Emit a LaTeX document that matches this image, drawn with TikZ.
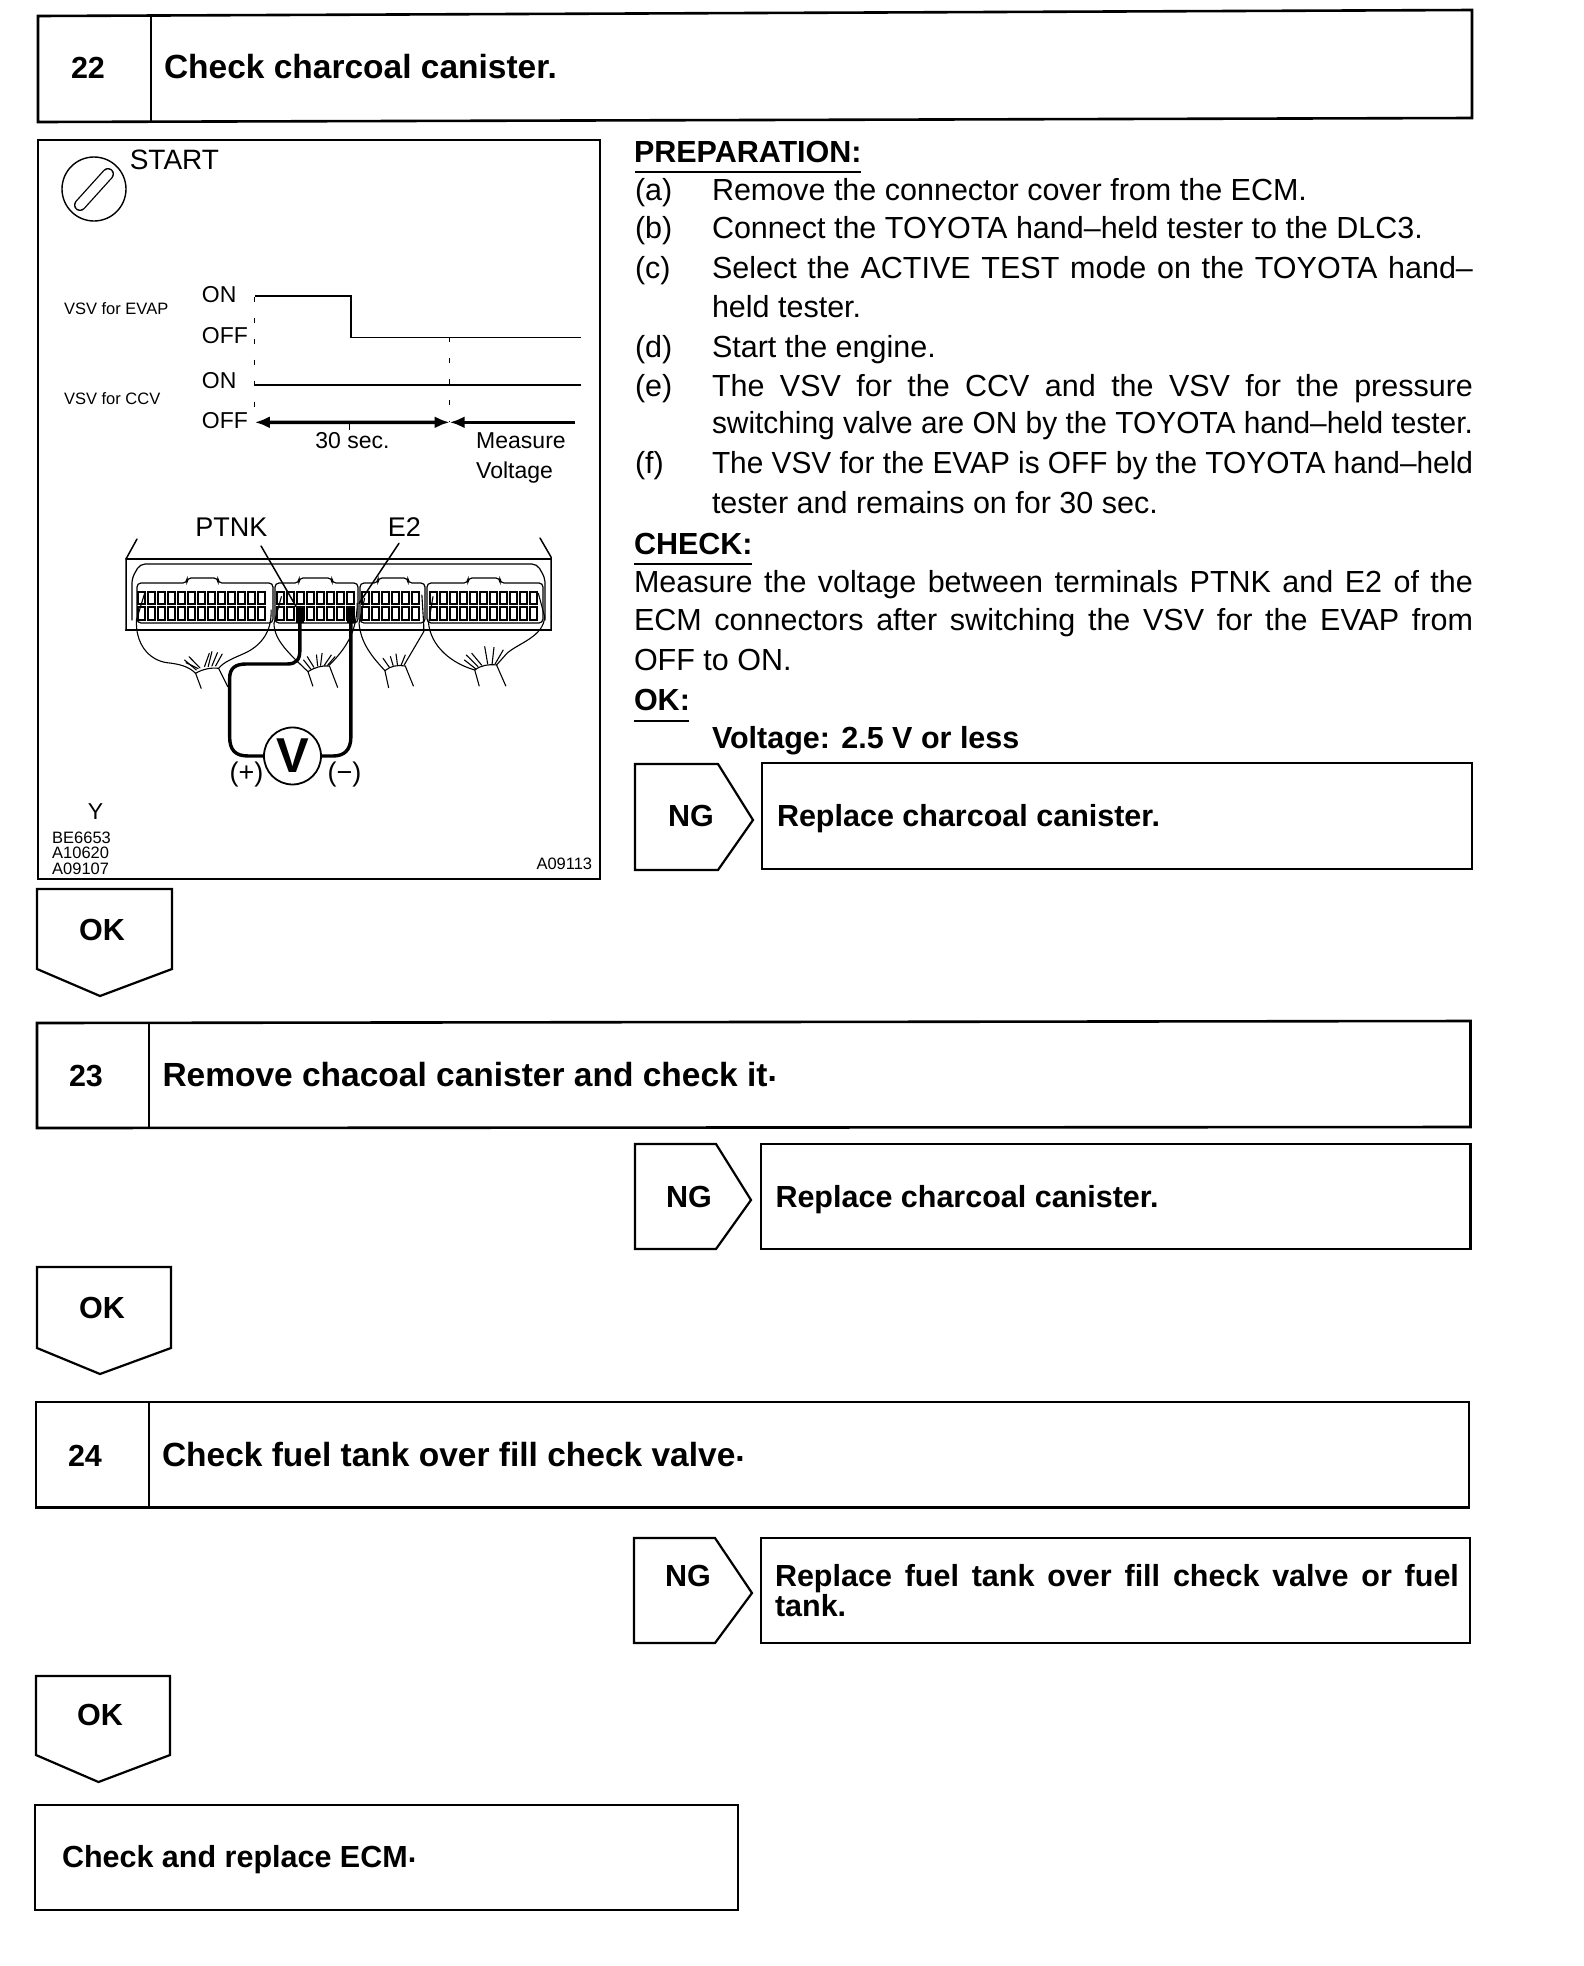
\documentclass[tikz,border=0pt]{standalone}
\usepackage{fontspec}
\setmainfont{Liberation Sans}
\usetikzlibrary{arrows.meta}
\newcommand{\fsz}[1]{\fontsize{#1}{#1}\selectfont}
\newcommand{\jl}[2]{\makebox[#1pt][s]{#2}}
\newcommand{\fitw}[2]{\resizebox{#1pt}{\height}{#2}}
\newcommand{\rdot}{\raisebox{5pt}{.}}
\newcommand{\ecmconn}[6]{%
  \draw[thinl,rounded corners=4pt] (#1,623) -- (#1,583) -- (#3,583) -- (#3,578) -- (#4,578) -- (#4,583) -- (#2,583) -- (#2,623) -- cycle;
  \foreach \i in {1,...,#6}{
    \draw[pin] ({#5+(\i-1)*10},592) rectangle +(7,12);
    \draw[pin] ({#5+(\i-1)*10},607) rectangle +(7,13);
  }}
\tikzset{
  txt/.style={anchor=base west,inner sep=0pt,outer sep=0pt,text=black},
  ctr/.style={anchor=base,inner sep=0pt,outer sep=0pt,text=black},
  body/.style={font=\fsz{30.5}},
  head/.style={font=\fsz{33.5}\bfseries},
  bold/.style={font=\fsz{30.5}\bfseries},
  lab/.style={font=\fsz{23}},
  small/.style={font=\fsz{16.5}},
  frame/.style={draw=black,line width=2.6pt,line join=miter},
  pent/.style={draw=black,line width=2.2pt,line join=miter},
  divider/.style={draw=black,line width=1.6pt},
  rule/.style={draw=black,line width=1.6pt},
  thinl/.style={draw=black,line width=1.2pt,line cap=round},
  pin/.style={draw=black,line width=1.3pt},
  wire/.style={draw=black,line width=1.1pt,line cap=round},
  probe/.style={draw=black,line width=3.4pt,line cap=round},
  sig/.style={draw=black,line width=1.5pt},
  dim/.style={draw=black,line width=3.4pt,-{Latex[length=15pt,width=12pt]}},
  dots/.style={draw=black,line width=1pt,dash pattern=on 5pt off 16pt},
}
\begin{document}
\begin{tikzpicture}[x=1pt,y=-1pt]
\useasboundingbox (0,0) rectangle (1584,1966);
\fill[white] (0,0) rectangle (1584,1966);
% step 22
\draw[frame] (38,16) -- (1472,10) -- (1472,118) -- (38,122) -- cycle;
\draw[divider] (151,15) -- (151,121);
\node[ctr,bold] (n22) at (88,78) {22};
\node[txt,head] (t22) at (164,78) {Check charcoal canister.};
% illustration
\draw[frame] (38,140) rectangle (600,879);
\begin{scope}[shift={(30,130)},xscale=0.3697,yscale=0.3333]
\node[txt,font=\fsz{28}] (start) at (270,118) {START};
\node[txt,small] (evap) at (92,553) {VSV for EVAP};
\node[txt,small] (ccv) at (92,823) {VSV for CCV};
\node[txt,lab] (on1) at (465,518) {ON};
\node[txt,lab] (off1) at (465,640) {OFF};
\node[txt,lab] (on2) at (465,775) {ON};
\node[txt,lab] (off2) at (465,895) {OFF};
\node[txt,lab] (sec) at (772,955) {30 sec.};
\node[txt,lab] (meas) at (1207,955) {Measure};
\node[txt,lab] (volt) at (1207,1045) {Voltage};
\draw[sig] (608,498) -- (868,498) -- (868,622) -- (1490,622);
\draw[sig] (608,765) -- (1490,765);
\draw[dots] (608,500) -- (608,877);
\draw[dots] (1135,622) -- (1135,877);
\draw[sig,line width=1pt] (865,877) -- (865,900);
\coordinate (am) at (1135,877);
\coordinate (al) at (608,877);
\coordinate (ar) at (1475,877);
\draw[dim] (865,877) -- (al);
\draw[dim] (865,877) -- (am);
\draw[dim] (ar) -- (am);
\end{scope}
% key symbol
\draw[thinl,line width=1.4pt] (94,189) circle (32);
\draw[line width=12pt,black,line cap=round] (108,174) -- (80,205);
\draw[line width=9.4pt,white,line cap=round] (108,174) -- (80,205);
% ECM case
\draw[thinl,line width=1.5pt] (137,539) -- (126,559) -- (126,630) -- (551,630) -- (551,557) -- (540,538);
\draw[thinl,line width=2pt] (126,559) -- (551,559);
\draw[thinl,line width=2.4pt] (126,630) -- (551,630);
\draw[thinl,rounded corners=5pt] (132,620) -- (132,578) -- (140,564) -- (537,564) -- (545,578) -- (545,620);
\ecmconn{137}{273}{187}{218}{138}{13}
\ecmconn{275}{358}{299}{332}{277}{8}
\ecmconn{360}{425}{378}{408}{362}{6}
\ecmconn{427}{543}{468}{500}{430}{11}
\begin{scope}[shift={(30,510)},xscale=0.3697,yscale=0.3333]
\node[txt,font=\fsz{27}] (ptnk) at (447,78) {PTNK};
\node[txt,font=\fsz{27}] (e2) at (968,78) {E2};
\coordinate (ptnkend) at (720,290);
\coordinate (e2end) at (890,280);
\draw[wire,line width=1.5pt] (625,108) -- (ptnkend);
\draw[wire,line width=1.5pt] (998,100) -- (e2end);
% bundle 1
\draw[wire] (310,250) -- (288,330) .. controls (285,400) and (320,450) .. (370,458) .. controls (405,462) and (430,470) .. (448,490);
\draw[wire] (652,300) .. controls (655,370) and (620,410) .. (580,430) .. controls (550,445) and (525,455) .. (510,475);
\draw[wire] (463,535) -- (448,490) .. controls (465,478) and (490,472) .. (510,475) -- (535,530);
\foreach \a/\b/\c/\d in {450/480/418/450,455/476/422/458,460/474/430/440,472/470/485/430,482/470/492/425,492/468/507/428,502/468/520/432}
  \draw[wire] (\a,\b) -- (\c,\d);
% bundle 2
\draw[wire] (680,260) -- (660,340) .. controls (660,390) and (700,430) .. (752,485);
\draw[wire] (885,280) .. controls (885,370) and (850,420) .. (810,465);
\draw[wire] (765,528) -- (752,485) .. controls (770,472) and (790,466) .. (810,468) -- (832,532);
\foreach \a/\b/\c/\d in {760/478/740/450,768/472/750/440,778/468/775/435,786/466/790/430,796/466/815/435,805/466/825/440}
  \draw[wire] (\a,\b) -- (\c,\d);
% bundle 3
\draw[wire] (905,265) -- (890,340) .. controls (895,400) and (925,440) .. (960,482);
\draw[wire] (1060,255) -- (1065,345) -- (1065,365) -- (1012,465);
\draw[wire] (970,533) -- (960,482) .. controls (975,468) and (995,464) .. (1015,468) -- (1037,528);
\foreach \a/\b/\c/\d in {972/472/955/445,982/466/975/440,994/465/990/432,1004/465/1015/435}
  \draw[wire] (\a,\b) -- (\c,\d);
% bundle 4
\draw[wire] (1090,260) -- (1078,340) .. controls (1085,410) and (1140,460) .. (1203,480);
\draw[wire] (1375,250) -- (1392,320) .. controls (1390,380) and (1320,400) .. (1290,430) -- (1262,465);
\draw[wire] (1215,528) -- (1203,480) .. controls (1220,466) and (1240,462) .. (1262,465) -- (1287,528);
\foreach \a/\b/\c/\d in {1205/476/1175/450,1212/470/1180/435,1222/466/1195/430,1238/462/1230/410,1250/462/1255/412,1258/462/1280/420}
  \draw[wire] (\a,\b) -- (\c,\d);
% meter
\node[circle,draw=black,line width=1.8pt,minimum size=57pt,inner sep=0pt,font=\fsz{49}\bfseries] (meter) at (710,738) {V};
\node[txt,font=\fsz{27}] (plus) at (540,815) {(+)};
\node[txt,font=\fsz{27}] (minus) at (805,815) {(−)};
\coordinate (pa) at (730,300);
\coordinate (ma) at (868,300);
\draw[probe] (pa) -- (730,420) .. controls (730,450) and (720,462) .. (695,462) -- (585,462) .. controls (555,462) and (540,475) .. (540,505) -- (540,680) .. controls (540,720) and (555,738) .. (590,738) -- (meter.west);
\draw[probe] (ma) -- (868,680) .. controls (868,720) and (850,738) .. (820,738) -- (meter.east);
\fill[black] (720,295) rectangle (742,340);
\fill[black] (858,295) rectangle (880,340);
% ids
\node[ctr,font=\fsz{23}] (y) at (177,930) {Y};
\node[txt,small] (id1) at (60,1002) {BE6653};
\node[txt,small] (id2) at (60,1047) {A10620};
\node[txt,small] (id3) at (60,1095) {A09107};
\node[txt,small] (id4) at (1370,1080) {A09113};
\end{scope}
% right text
\node[txt,bold] (prep) at (634,162) {PREPARATION:};
\draw[rule] (635,172) -- (861,172);
\node[txt,body] (la) at (635,200) {(a)};
\node[txt,body] (ta) at (712,200) {Remove the connector cover from the ECM.};
\node[txt,body] (lb) at (635,238) {(b)};
\node[txt,body] (tb) at (712,238) {Connect the TOYOTA hand–held tester to the DLC3.};
\node[txt,body] (lc) at (635,278) {(c)};
\node[txt,body] (tc) at (712,278) {\jl{761}{Select the ACTIVE TEST mode on the TOYOTA hand–}};
\node[txt,body] (tc2) at (712,317) {held tester.};
\node[txt,body] (ld) at (635,357) {(d)};
\node[txt,body] (td) at (712,357) {Start the engine.};
\node[txt,body] (le) at (635,396) {(e)};
\node[txt,body] (te) at (712,396) {\jl{761}{The VSV for the CCV and the VSV for the pressure}};
\node[txt,body] (te2) at (712,433) {\fitw{761}{switching valve are ON by the TOYOTA hand–held tester.}};
\node[txt,body] (lf) at (635,473) {(f)};
\node[txt,body] (tf) at (712,473) {\fitw{761}{The VSV for the EVAP is OFF by the TOYOTA hand–held}};
\node[txt,body] (tf2) at (712,513) {tester and remains on for 30 sec.};
\node[txt,bold] (chk) at (634,554) {CHECK:};
\draw[rule] (634,564) -- (752,564);
\node[txt,body] (m1) at (634,592) {\jl{839}{Measure the voltage between terminals PTNK and E2 of the}};
\node[txt,body] (m2) at (634,630) {\jl{839}{ECM connectors after switching the VSV for the EVAP from}};
\node[txt,body] (m3) at (634,670) {OFF to ON.};
\node[txt,bold] (okh) at (634,710) {OK:};
\draw[rule] (634,721) -- (689,721);
\node[txt,bold] (vl) at (712,748) {Voltage: 2.5 V or less};
% NG 22
\draw[pent] (635,764) -- (718,764) -- (753,820) -- (718,870) -- (635,870) -- cycle;
\node[ctr,bold] (ng1) at (691,826) {NG};
\draw[frame] (762,763) rectangle (1472,869);
\node[txt,bold] (r1) at (777,826) {Replace charcoal canister.};
% OK 22
\draw[pent] (37,889) -- (172,889) -- (172,969) -- (100,996) -- (37,969) -- cycle;
\node[ctr,bold] (ok1) at (102,940) {OK};
% step 23
\draw[frame] (37,1023) -- (1470.5,1021) -- (1470.5,1127) -- (37,1128) -- cycle;
\draw[divider] (149,1023) -- (149,1128);
\node[ctr,bold] (n23) at (86,1086) {23};
\node[txt,head] (t23) at (162.5,1086) {Remove chacoal canister and check it\rdot};
% NG 23
\draw[pent] (635,1144) -- (716,1144) -- (751,1200) -- (716,1249) -- (635,1249) -- cycle;
\node[ctr,bold] (ng2) at (689,1207) {NG};
\draw[frame] (761,1144) rectangle (1470.5,1249);
\node[txt,bold] (r2) at (775.5,1207) {Replace charcoal canister.};
% OK 23
\draw[pent] (37,1267) -- (171,1267) -- (171,1348) -- (100,1374) -- (37,1348) -- cycle;
\node[ctr,bold] (ok2) at (102,1318) {OK};
% step 24
\draw[frame] (36,1402) -- (1469,1402) -- (1469,1507.5) -- (36,1507.5) -- cycle;
\draw[divider] (149,1402) -- (149,1507.5);
\node[ctr,bold] (n24) at (85,1466.5) {24};
\node[txt,head] (t24) at (162,1466.5) {Check fuel tank over fill check valve\rdot};
% NG 24
\draw[pent] (634,1538) -- (715,1538) -- (752,1593) -- (715,1643) -- (634,1643) -- cycle;
\node[ctr,bold] (ng3) at (688,1586) {NG};
\draw[frame] (761,1538) rectangle (1470,1643);
\node[txt,bold] (r3) at (775,1586) {\jl{684}{Replace fuel tank over fill check valve or fuel}};
\node[txt,bold] (r3b) at (775,1616) {tank.};
% OK 24
\draw[pent] (36,1676) -- (170,1676) -- (170,1755) -- (98.5,1782) -- (36,1755) -- cycle;
\node[ctr,bold] (ok3) at (100,1725.5) {OK};
% final
\draw[frame] (35,1805) rectangle (738,1910);
\node[txt,bold] (fin) at (62,1867) {Check and replace ECM\rdot};
\end{tikzpicture}
\end{document}
